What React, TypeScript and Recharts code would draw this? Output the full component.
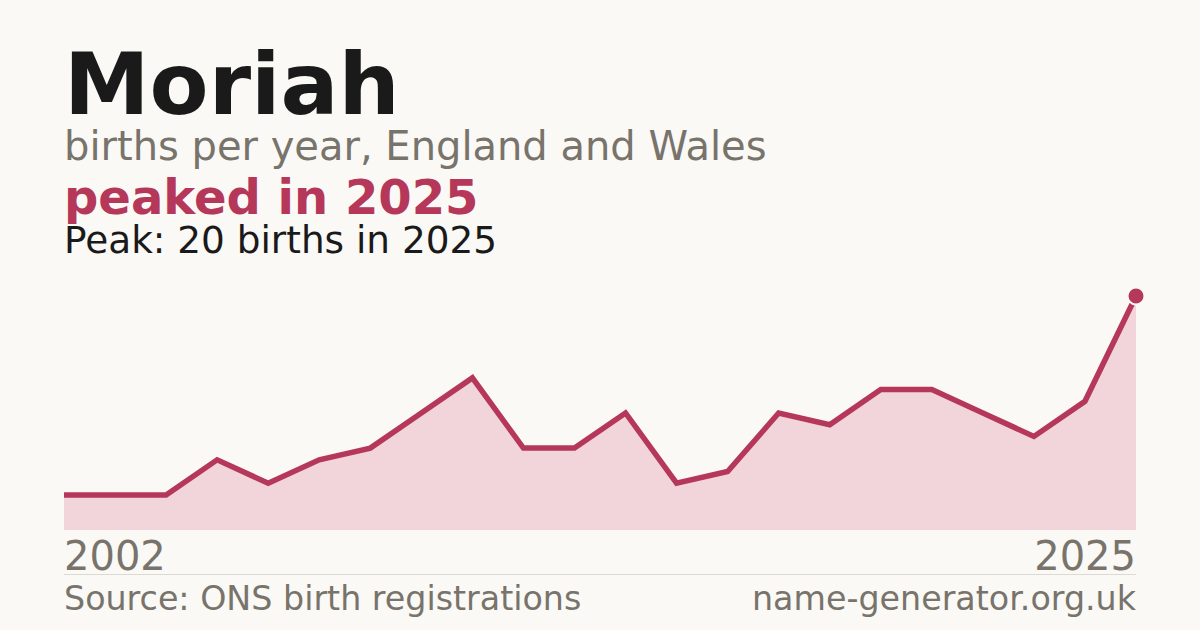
import React from 'react';
import { AreaChart, Area, XAxis, YAxis } from 'recharts';

// 22 registered years between 2002 and 2025 (two years have no entry)
const years = [
  '2002', '2003', '2004', '2005', '2006', '2007', '2008', '2009', '2010', '2011', '2012',
  '2013', '2014', '2015', '2016', '2017', '2018', '2019', '2022', '2023', '2024', '2025',
];
const births = [3, 3, 3, 6, 4, 6, 7, 10, 13, 7, 7, 10, 4, 5, 10, 9, 12, 12, 10, 8, 11, 20];
const tickYears = ['2002', '2025'];

const name = 'Moriah';
const subtitle = 'births per year, England and Wales';
const headline = 'peaked in 2025';
const peakNote = 'Peak: 20 births in 2025';
const sourceNote = 'Source: ONS birth registrations';
const siteNote = 'name-generator.org.uk';

const BG = '#faf9f5';
const RED = '#b5385a';
const FILL = '#f1d5db';
const GREY = '#78736b';
const INK = '#1a1a1a';
const FONT = '"DejaVu Sans", Verdana, sans-serif';

const data = years.map((year, i) => ({ year, births: births[i] }));

const YearTick = (props: any) => {
  const { x, y, payload } = props;
  const first = payload.value === years[0];
  return (
    <text
      x={x}
      y={y + 40}
      textAnchor={first ? 'start' : 'end'}
      fill={GREY}
      fontSize={40}
      fontFamily={FONT}
    >
      {payload.value}
    </text>
  );
};

const PeakDot = (props: any) => {
  const { cx, cy, index } = props;
  if (index !== births.length - 1) return <g key={`d${index}`} />;
  return <circle key={`d${index}`} cx={cx} cy={cy} r={8.5} fill={RED} stroke={BG} strokeWidth={2} />;
};

export default function App() {
  return (
    <div
      style={{
        position: 'absolute',
        left: 0,
        top: 0,
        width: 1200,
        height: 630,
        background: BG,
        overflow: 'hidden',
      }}
    >
      <svg width={1200} height={630} style={{ position: 'absolute', left: 0, top: 0 }}>
        <text x={64} y={114} fontSize={86} fontWeight="bold" fill={INK} fontFamily={FONT}>
          {name}
        </text>
        <text x={64} y={160} fontSize={40} fill={GREY} fontFamily={FONT}>
          {subtitle}
        </text>
        <text x={64} y={214} fontSize={48} fontWeight="bold" fill={RED} fontFamily={FONT}>
          {headline}
        </text>
        <text x={64} y={253} fontSize={37.4} fill={INK} fontFamily={FONT}>
          {peakNote}
        </text>
        <line x1={64} x2={1136} y1={574.5} y2={574.5} stroke="#dcd9d3" strokeWidth={1} />
        <text x={64} y={610} fontSize={33.3} fill={GREY} fontFamily={FONT}>
          {sourceNote}
        </text>
        <text x={1136} y={610} fontSize={33.3} fill={GREY} fontFamily={FONT} textAnchor="end">
          {siteNote}
        </text>
      </svg>
      <div style={{ position: 'absolute', left: 0, top: 0 }}>
        <AreaChart
          width={1200}
          height={630}
          data={data}
          margin={{ top: 296, right: 64, bottom: 40, left: 64 }}
        >
          <XAxis
            dataKey="year"
            ticks={tickYears}
            interval={0}
            axisLine={false}
            tickLine={false}
            tickSize={0}
            tickMargin={0}
            height={60}
            tick={<YearTick />}
          />
          <YAxis hide domain={[0, 20]} />
          <Area
            type="linear"
            dataKey="births"
            stroke={RED}
            strokeWidth={5.5}
            fill={FILL}
            fillOpacity={1}
            dot={PeakDot}
            activeDot={false}
            isAnimationActive={false}
          />
        </AreaChart>
      </div>
    </div>
  );
}
